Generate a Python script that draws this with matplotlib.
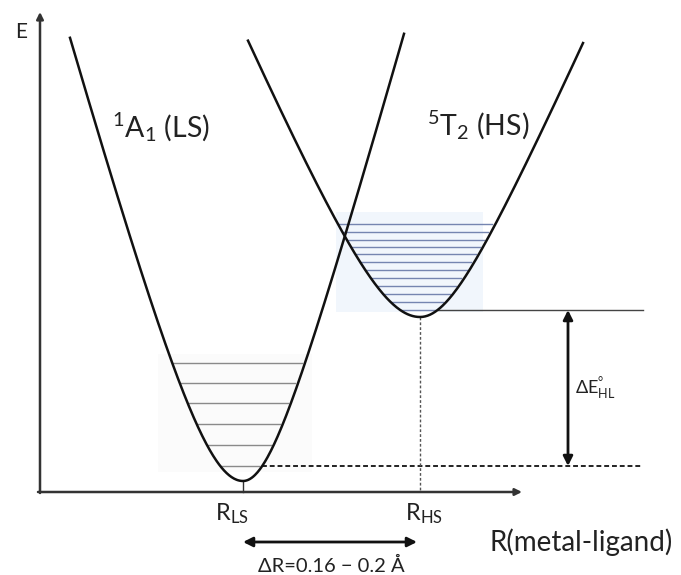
import numpy as np
import matplotlib.pyplot as plt
from matplotlib.patches import Rectangle

plt.rcParams['font.family'] = ['Lato', 'DejaVu Sans']
plt.rcParams['mathtext.default'] = 'regular'

# potential wells: minimum position / energy and branch shape (slope, rounding)
r_ls, e_ls = 2.03, 0.11
r_hs, e_hs = 3.80, 1.75
ls_shape = (3.6, 2.16, 3.6, 1.52)
hs_shape = (2.3, 1.45, 2.25, 1.085)
ls_range = (0.30, 3.64)
hs_range = (2.08, 5.43)

# vibrational levels drawn inside each well
ls_levels = [0.26, 0.47, 0.68, 0.89, 1.09, 1.29]
hs_levels = [1.82, 1.90, 1.98, 2.06, 2.14, 2.22, 2.30, 2.38, 2.45, 2.52, 2.60, 2.68]

line_end = 6.03


def well(r, r0, e0, shape):
    sl, bl, sr, br = shape
    d = r - r0
    s = np.where(d < 0, sl, sr)
    b = np.where(d < 0, bl, br)
    return e0 + np.sqrt(b**2 + (s * d)**2) - b


def width_at(e, r0, e0, shape):
    # left and right crossing of a level with the well
    sl, bl, sr, br = shape
    h = e - e0
    left = r0 - np.sqrt((h + bl)**2 - bl**2) / sl
    right = r0 + np.sqrt((h + br)**2 - br**2) / sr
    return left, right


fig = plt.figure(figsize=(6.81, 5.75), dpi=100)
ax = fig.add_axes([0, 0, 1, 1])
ax.set_xlim(-0.40, 6.41)
ax.set_ylim(-0.83, 4.92)
ax.axis('off')

# faint boxes behind the level ladders
ax.add_patch(Rectangle((2.96, 1.80), 1.47, 1.0, color='#f1f6fc', lw=0, zorder=0))
ax.add_patch(Rectangle((1.18, 0.20), 1.54, 1.18, color='#fbfbfb', lw=0, zorder=0))

# axes with arrow heads
ax.annotate('', xy=(0, 4.80), xytext=(0, -0.01),
            arrowprops=dict(arrowstyle='-|>', lw=1.8, color='#333333',
                            mutation_scale=10, shrinkA=0, shrinkB=0))
ax.annotate('', xy=(4.82, 0), xytext=(-0.02, 0),
            arrowprops=dict(arrowstyle='-|>', lw=1.8, color='#333333',
                            mutation_scale=10, shrinkA=0, shrinkB=0))

# level ladders
for e in ls_levels:
    a, b = width_at(e, r_ls, e_ls, ls_shape)
    ax.plot([a + 0.01, b - 0.03], [e, e], color='#8a8a8a', lw=1.0, zorder=2)
for e in hs_levels:
    a, b = width_at(e, r_hs, e_hs, hs_shape)
    ax.plot([a + 0.01, b - 0.03], [e, e], color='#7585b0', lw=1.0, zorder=2)

# curves
r = np.linspace(*ls_range, 400)
ax.plot(r, well(r, r_ls, e_ls, ls_shape), color='#111111', lw=1.8, zorder=3)
r = np.linspace(*hs_range, 400)
ax.plot(r, well(r, r_hs, e_hs, hs_shape), color='#111111', lw=1.8, zorder=3)

# zero-point reference lines
_, b = width_at(ls_levels[0], r_ls, e_ls, ls_shape)
ax.plot([b, line_end], [ls_levels[0]] * 2, color='#222222', lw=1.4,
        ls=(0, (2.5, 1.5)), zorder=2)
_, b = width_at(hs_levels[0], r_hs, e_hs, hs_shape)
ax.plot([b, line_end], [hs_levels[0]] * 2, color='#444444', lw=1.0, zorder=2)

# markers down to the R axis
ax.plot([r_ls, r_ls], [e_ls, 0], color='#333333', lw=1.0)
ax.plot([r_hs, r_hs], [e_hs, 0], color='#555555', lw=1.0, ls=(0, (2, 1.5)))

# energy gap and bond length change
ax.annotate('', xy=(5.28, hs_levels[0]), xytext=(5.28, ls_levels[0]),
            arrowprops=dict(arrowstyle='<|-|>', lw=2.0, color='#111111',
                            mutation_scale=14, shrinkA=0, shrinkB=0))
ax.annotate('', xy=(r_hs - 0.03, -0.50), xytext=(r_ls, -0.50),
            arrowprops=dict(arrowstyle='<|-|>', lw=2.0, color='#111111',
                            mutation_scale=14, shrinkA=0, shrinkB=0))

tc = '#222222'
ax.text(-0.19, 4.60, 'E', fontsize=15, color=tc, ha='center', va='center')
ax.text(0.72, 3.55, r'$^{1}$A$_{1}$ (LS)', fontsize=20.5, color=tc, va='baseline')
ax.text(3.87, 3.57, r'$^{5}$T$_{2}$ (HS)', fontsize=20.5, color=tc, va='baseline')
ax.text(1.75, -0.28, r'R$_{LS}$', fontsize=17, color=tc, va='baseline')
ax.text(3.65, -0.28, r'R$_{HS}$', fontsize=17, color=tc, va='baseline')
ax.text(4.50, -0.59, 'R(metal-ligand)', fontsize=20, color=tc, va='baseline')
ax.text(5.35, 0.97, r'ΔE$^{°}_{HL}$', fontsize=13, color=tc, va='baseline')
ax.text(2.18, -0.80, 'ΔR=0.16 − 0.2 Å', fontsize=14.5, color=tc, va='baseline')

fig.savefig('out.png', dpi=100)
